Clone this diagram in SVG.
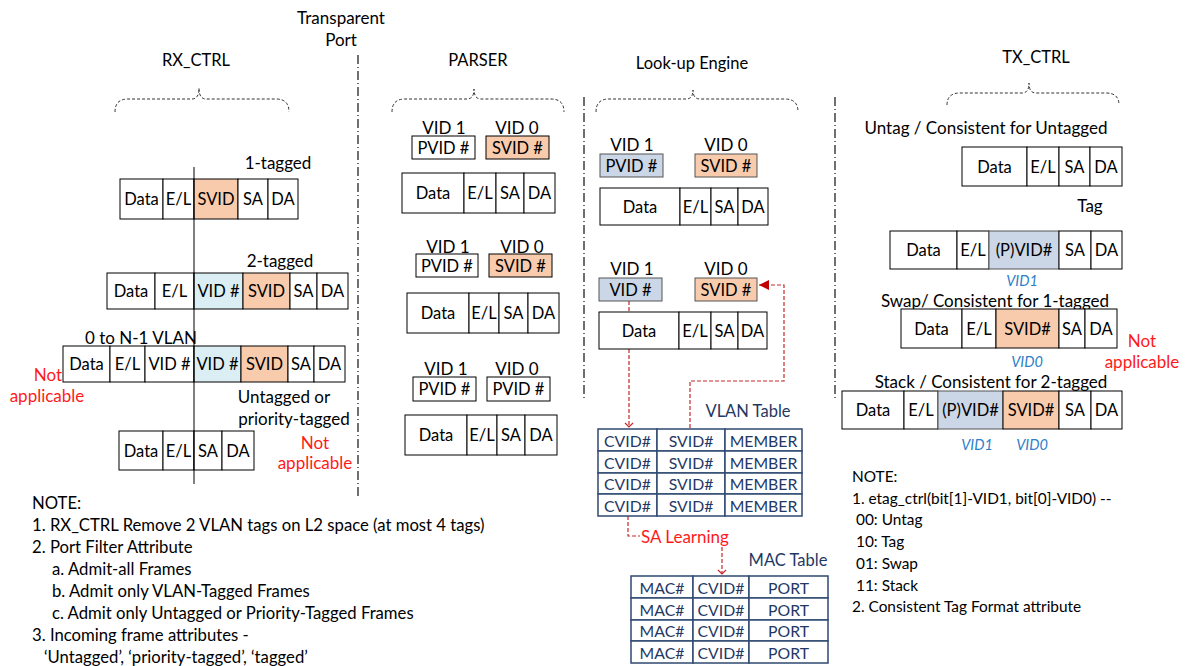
<svg xmlns="http://www.w3.org/2000/svg" width="1189" height="666" viewBox="0 0 1189 666">
<style>
text{font-family:Lato,"Liberation Sans",sans-serif;fill:#000;dominant-baseline:central}
.t{font-size:16.5px;text-anchor:middle}
.l{font-size:17px;text-anchor:middle}
.h{font-size:16.5px;text-anchor:middle}
.n{font-size:16.7px}
.n2{font-size:15.4px}
.red{fill:#ff1a1a;font-size:17px;text-anchor:middle}
.vi{fill:#2e7fc8;font-style:italic;font-size:14.5px;text-anchor:middle}
.tb{fill:#1f3864;font-size:15.8px;text-anchor:middle}
.tl{fill:#1f3864;font-size:16.5px;text-anchor:middle}
rect{stroke:#000;stroke-width:1;fill:#fff}
.o{fill:#f8cbad}
.b{fill:#daeef3}
.g{fill:#cbd6e6;stroke:#555}
.os{fill:#f8cbad;stroke:#555}
.tab rect{stroke:#2f4a70;stroke-width:1.5}
.brace{fill:none;stroke:#333;stroke-width:1;stroke-dasharray:3,2}
.sep{fill:none;stroke:#333;stroke-width:1.4;stroke-dasharray:9,3,1,3}
.rl{fill:none;stroke:#c62828;stroke-width:1.2;stroke-dasharray:4,2}
</style>
<defs>
<marker id="chev" markerWidth="10" markerHeight="10" refX="5" refY="5" orient="auto" markerUnits="userSpaceOnUse"><path d="M1,1 L5,5 L1,9" fill="none" stroke="#c62828" stroke-width="1.2"/></marker>
<marker id="tri" markerWidth="12" markerHeight="12" refX="10" refY="6" orient="auto" markerUnits="userSpaceOnUse"><path d="M0,1 L10,6 L0,11 Z" fill="#c00000"/></marker>
</defs>

<g id="connectors">
<path class="rl" d="M629,301 L629,427" marker-end="url(#chev)"/>
<path class="rl" d="M690,428 L690,381 L784,381 L784,285 L759,285" marker-end="url(#tri)"/>
<path class="rl" d="M628,516 L628,536 L640,536"/>
<path class="rl" d="M722,547 L722,574" marker-end="url(#chev)"/>
</g>

<g id="separators">
<path class="sep" d="M358,55 L358,497"/>
<path class="sep" d="M584,97 L584,400"/>
<path class="sep" d="M835,97 L835,398"/>
<text class="l" x="341" y="17">Transparent</text>
<text class="l" x="341" y="39">Port</text>
</g>

<g id="rx_ctrl">
<text class="h" x="196" y="60">RX_CTRL</text>
<path class="brace" d="M115,112 Q115,99 128,99 L192,99 Q199,99 199,88 Q199,99 206,99 L276,99 Q289,99 289,112"/>
<g id="rx_1tagged">
<text class="l" x="278" y="162">1-tagged</text>
<rect x="120" y="179" width="43" height="40"/><text class="t" x="141.5" y="199">Data</text>
<rect x="163" y="179" width="31" height="40"/><text class="t" x="178.5" y="199">E/L</text>
<rect class="o" x="194" y="179" width="44" height="40"/><text class="t" x="216" y="199">SVID</text>
<rect x="238" y="179" width="30" height="40"/><text class="t" x="253" y="199">SA</text>
<rect x="268" y="179" width="30" height="40"/><text class="t" x="283" y="199">DA</text>
</g>
<g id="rx_2tagged">
<text class="l" x="280" y="260">2-tagged</text>
<rect x="107" y="273" width="48" height="36"/><text class="t" x="131" y="291">Data</text>
<rect x="155" y="273" width="39" height="36"/><text class="t" x="174.5" y="291">E/L</text>
<rect class="b" x="194" y="273" width="49" height="36"/><text class="t" x="218.5" y="291">VID #</text>
<rect class="o" x="243" y="273" width="47" height="36"/><text class="t" x="266.5" y="291">SVID</text>
<rect x="290" y="273" width="27" height="36"/><text class="t" x="303.5" y="291">SA</text>
<rect x="317" y="273" width="31" height="36"/><text class="t" x="332.5" y="291">DA</text>
</g>
<g id="rx_nvlan">
<text class="l" x="141" y="337">0 to N-1 VLAN</text>
<rect x="63" y="346" width="47" height="36"/><text class="t" x="86.5" y="364">Data</text>
<rect x="110" y="346" width="35" height="36"/><text class="t" x="127.5" y="364">E/L</text>
<rect x="145" y="346" width="49" height="36"/><text class="t" x="169.5" y="364">VID #</text>
<rect class="b" x="194" y="346" width="47" height="36"/><text class="t" x="217.5" y="364">VID #</text>
<rect class="o" x="241" y="346" width="47" height="36"/><text class="t" x="264.5" y="364">SVID</text>
<rect x="288" y="346" width="26" height="36"/><text class="t" x="301" y="364">SA</text>
<rect x="314" y="346" width="31" height="36"/><text class="t" x="329.5" y="364">DA</text>
<text class="red" x="48" y="374">Not</text>
<text class="red" x="47" y="395">applicable</text>
</g>
<g id="rx_untagged">
<text class="l" x="284" y="396">Untagged or</text>
<text class="l" x="294" y="418">priority-tagged</text>
<rect x="119" y="431" width="44" height="39"/><text class="t" x="141" y="450.5">Data</text>
<rect x="163" y="431" width="31" height="39"/><text class="t" x="178.5" y="450.5">E/L</text>
<rect x="194" y="431" width="28" height="39"/><text class="t" x="208" y="450.5">SA</text>
<rect x="222" y="431" width="32" height="39"/><text class="t" x="238" y="450.5">DA</text>
<text class="red" x="315" y="442">Not</text>
<text class="red" x="315" y="462">applicable</text>
</g>
<path d="M194,167 L194,484" stroke="#000" stroke-width="1"/>
<g id="rx_notes">
<text class="n" x="32" y="503">NOTE:</text>
<text class="n" x="32" y="525">1. RX_CTRL Remove 2 VLAN tags on L2 space (at most 4 tags)</text>
<text class="n" x="32" y="547">2. Port Filter Attribute</text>
<text class="n" x="52" y="569">a. Admit-all Frames</text>
<text class="n" x="52" y="591">b. Admit only VLAN-Tagged Frames</text>
<text class="n" x="52" y="613">c. Admit only Untagged or Priority-Tagged Frames</text>
<text class="n" x="32" y="635">3. Incoming frame attributes -</text>
<text class="n" x="44" y="657">‘Untagged’, ‘priority-tagged’, ‘tagged’</text>
</g>
</g>

<g id="parser">
<text class="h" x="478" y="60">PARSER</text>
<path class="brace" d="M392,112 Q392,99 405,99 L467,99 Q474,99 474,89 Q474,99 481,99 L551,99 Q564,99 564,112"/>
<g id="parser_1">
<text class="l" x="444" y="127">VID 1</text><text class="l" x="517" y="127">VID 0</text>
<rect x="412" y="136" width="63" height="23"/><text class="t" x="443.5" y="147.5">PVID #</text>
<rect class="o" x="486" y="136" width="63" height="23"/><text class="t" x="517.5" y="147.5">SVID #</text>
<rect x="402" y="173" width="62" height="40"/><text class="t" x="433" y="193">Data</text>
<rect x="464" y="173" width="32" height="40"/><text class="t" x="480" y="193">E/L</text>
<rect x="496" y="173" width="28" height="40"/><text class="t" x="510" y="193">SA</text>
<rect x="524" y="173" width="31" height="40"/><text class="t" x="539.5" y="193">DA</text>
</g>
<g id="parser_2">
<text class="l" x="448" y="246">VID 1</text><text class="l" x="522" y="246">VID 0</text>
<rect x="416" y="254" width="62" height="23"/><text class="t" x="447" y="265.5">PVID #</text>
<rect class="o" x="489" y="254" width="63" height="23"/><text class="t" x="520.5" y="265.5">SVID #</text>
<rect x="407" y="293" width="62" height="40"/><text class="t" x="438" y="313">Data</text>
<rect x="469" y="293" width="30" height="40"/><text class="t" x="484" y="313">E/L</text>
<rect x="499" y="293" width="29" height="40"/><text class="t" x="513.5" y="313">SA</text>
<rect x="528" y="293" width="31" height="40"/><text class="t" x="543.5" y="313">DA</text>
</g>
<g id="parser_3">
<text class="l" x="446" y="368">VID 1</text><text class="l" x="517" y="368">VID 0</text>
<rect x="413" y="377" width="63" height="24"/><text class="t" x="444.5" y="389">PVID #</text>
<rect x="487" y="377" width="63" height="24"/><text class="t" x="518.5" y="389">PVID #</text>
<rect x="405" y="415" width="62" height="40"/><text class="t" x="436" y="435">Data</text>
<rect x="467" y="415" width="30" height="40"/><text class="t" x="482" y="435">E/L</text>
<rect x="497" y="415" width="28" height="40"/><text class="t" x="511" y="435">SA</text>
<rect x="525" y="415" width="32" height="40"/><text class="t" x="541" y="435">DA</text>
</g>
</g>

<g id="lookup">
<text class="h" x="692" y="63">Look-up Engine</text>
<path class="brace" d="M596,112 Q596,99 609,99 L686,99 Q693,99 693,90 Q693,99 700,99 L785,99 Q798,99 798,112"/>
<g id="lookup_1">
<text class="l" x="632" y="144">VID 1</text><text class="l" x="726" y="144">VID 0</text>
<rect class="g" x="600" y="154" width="63" height="23"/><text class="t" x="631.5" y="165.5">PVID #</text>
<rect class="os" x="695" y="154" width="62" height="23"/><text class="t" x="726" y="165.5">SVID #</text>
<rect x="600" y="188" width="80" height="37"/><text class="t" x="640" y="206.5">Data</text>
<rect x="680" y="188" width="31" height="37"/><text class="t" x="695.5" y="206.5">E/L</text>
<rect x="711" y="188" width="27" height="37"/><text class="t" x="724.5" y="206.5">SA</text>
<rect x="738" y="188" width="30" height="37"/><text class="t" x="753" y="206.5">DA</text>
</g>
<g id="lookup_2">
<text class="l" x="632" y="268">VID 1</text><text class="l" x="726" y="268">VID 0</text>
<rect class="g" x="599" y="278" width="63" height="23"/><text class="t" x="630.5" y="289.5">VID #</text>
<rect class="os" x="695" y="278" width="62" height="23"/><text class="t" x="726" y="289.5">SVID #</text>
<rect x="599" y="312" width="80" height="37"/><text class="t" x="639" y="330.5">Data</text>
<rect x="679" y="312" width="32" height="37"/><text class="t" x="695" y="330.5">E/L</text>
<rect x="711" y="312" width="27" height="37"/><text class="t" x="724.5" y="330.5">SA</text>
<rect x="738" y="312" width="29" height="37"/><text class="t" x="752.5" y="330.5">DA</text>
</g>
<g id="vlan_table" class="tab">
<text class="tl" x="748" y="411">VLAN Table</text>
<rect x="598" y="429" width="59" height="22"/><rect x="657" y="429" width="68" height="22"/><rect x="725" y="429" width="77" height="22"/>
<rect x="598" y="451" width="59" height="22"/><rect x="657" y="451" width="68" height="22"/><rect x="725" y="451" width="77" height="22"/>
<rect x="598" y="473" width="59" height="21"/><rect x="657" y="473" width="68" height="21"/><rect x="725" y="473" width="77" height="21"/>
<rect x="598" y="494" width="59" height="22"/><rect x="657" y="494" width="68" height="22"/><rect x="725" y="494" width="77" height="22"/>
<text class="tb" x="627.5" y="440">CVID#</text><text class="tb" x="691" y="440">SVID#</text><text class="tb" x="763.5" y="440">MEMBER</text>
<text class="tb" x="627.5" y="462">CVID#</text><text class="tb" x="691" y="462">SVID#</text><text class="tb" x="763.5" y="462">MEMBER</text>
<text class="tb" x="627.5" y="483.5">CVID#</text><text class="tb" x="691" y="483.5">SVID#</text><text class="tb" x="763.5" y="483.5">MEMBER</text>
<text class="tb" x="627.5" y="505">CVID#</text><text class="tb" x="691" y="505">SVID#</text><text class="tb" x="763.5" y="505">MEMBER</text>
</g>
<text class="red" x="685" y="536">SA Learning</text>
<g id="mac_table" class="tab">
<text class="tl" x="788" y="560">MAC Table</text>
<rect x="631" y="576" width="62" height="22"/><rect x="693" y="576" width="56" height="22"/><rect x="749" y="576" width="79" height="22"/>
<rect x="631" y="598" width="62" height="22"/><rect x="693" y="598" width="56" height="22"/><rect x="749" y="598" width="79" height="22"/>
<rect x="631" y="620" width="62" height="21"/><rect x="693" y="620" width="56" height="21"/><rect x="749" y="620" width="79" height="21"/>
<rect x="631" y="641" width="62" height="22"/><rect x="693" y="641" width="56" height="22"/><rect x="749" y="641" width="79" height="22"/>
<text class="tb" x="662" y="587">MAC#</text><text class="tb" x="721" y="587">CVID#</text><text class="tb" x="788.5" y="587">PORT</text>
<text class="tb" x="662" y="609">MAC#</text><text class="tb" x="721" y="609">CVID#</text><text class="tb" x="788.5" y="609">PORT</text>
<text class="tb" x="662" y="630.5">MAC#</text><text class="tb" x="721" y="630.5">CVID#</text><text class="tb" x="788.5" y="630.5">PORT</text>
<text class="tb" x="662" y="652">MAC#</text><text class="tb" x="721" y="652">CVID#</text><text class="tb" x="788.5" y="652">PORT</text>
</g>
</g>

<g id="tx_ctrl">
<text class="h" x="1036" y="57">TX_CTRL</text>
<path class="brace" d="M947,105 Q947,93 960,93 L1022,93 Q1029,93 1029,83 Q1029,93 1036,93 L1106,93 Q1119,93 1119,105"/>
<g id="tx_untag">
<text class="l" x="986" y="127">Untag / Consistent for Untagged</text>
<rect x="962" y="147" width="65" height="39"/><text class="t" x="994.5" y="166.5">Data</text>
<rect x="1027" y="147" width="32" height="39"/><text class="t" x="1043" y="166.5">E/L</text>
<rect x="1059" y="147" width="31" height="39"/><text class="t" x="1074.5" y="166.5">SA</text>
<rect x="1090" y="147" width="32" height="39"/><text class="t" x="1106" y="166.5">DA</text>
</g>
<g id="tx_tag">
<text class="l" x="1090" y="205">Tag</text>
<rect x="890" y="231" width="67" height="38"/><text class="t" x="923.5" y="250">Data</text>
<rect x="957" y="231" width="32" height="38"/><text class="t" x="973" y="250">E/L</text>
<rect class="g" x="989" y="231" width="70" height="38"/><text class="t" x="1024" y="250">(P)VID#</text>
<rect x="1059" y="231" width="32" height="38"/><text class="t" x="1075" y="250">SA</text>
<rect x="1091" y="231" width="31" height="38"/><text class="t" x="1106.5" y="250">DA</text>
<text class="vi" x="1022" y="280.5">VID1</text>
</g>
<g id="tx_swap">
<text class="l" x="995" y="300">Swap/ Consistent for 1-tagged</text>
<rect x="901" y="309" width="61" height="39"/><text class="t" x="931.5" y="328.5">Data</text>
<rect x="962" y="309" width="34" height="39"/><text class="t" x="979" y="328.5">E/L</text>
<rect class="o" x="996" y="309" width="63" height="39"/><text class="t" x="1027.5" y="328.5">SVID#</text>
<rect x="1059" y="309" width="26" height="39"/><text class="t" x="1072" y="328.5">SA</text>
<rect x="1085" y="309" width="32" height="39"/><text class="t" x="1101" y="328.5">DA</text>
<text class="vi" x="1027" y="361">VID0</text>
<text class="red" x="1142" y="340">Not</text>
<text class="red" x="1142" y="361">applicable</text>
</g>
<g id="tx_stack">
<text class="l" x="991" y="381">Stack / Consistent for 2-tagged</text>
<rect x="842" y="391" width="62" height="38"/><text class="t" x="873" y="410">Data</text>
<rect x="904" y="391" width="34" height="38"/><text class="t" x="921" y="410">E/L</text>
<rect class="g" x="938" y="391" width="65" height="38"/><text class="t" x="970.5" y="410">(P)VID#</text>
<rect class="o" x="1003" y="391" width="56" height="38"/><text class="t" x="1031" y="410">SVID#</text>
<rect x="1059" y="391" width="32" height="38"/><text class="t" x="1075" y="410">SA</text>
<rect x="1091" y="391" width="31" height="38"/><text class="t" x="1106.5" y="410">DA</text>
<text class="vi" x="977" y="444">VID1</text>
<text class="vi" x="1032" y="444">VID0</text>
</g>
<g id="tx_notes">
<text class="n2" x="852" y="476">NOTE:</text>
<text class="n2" x="852" y="498">1. etag_ctrl(bit[1]-VID1, bit[0]-VID0) --</text>
<text class="n2" x="856" y="519">00: Untag</text>
<text class="n2" x="856" y="541">10: Tag</text>
<text class="n2" x="856" y="563">01: Swap</text>
<text class="n2" x="856" y="585">11: Stack</text>
<text class="n2" x="852" y="606">2. Consistent Tag Format attribute</text>
</g>
</g>
</svg>
